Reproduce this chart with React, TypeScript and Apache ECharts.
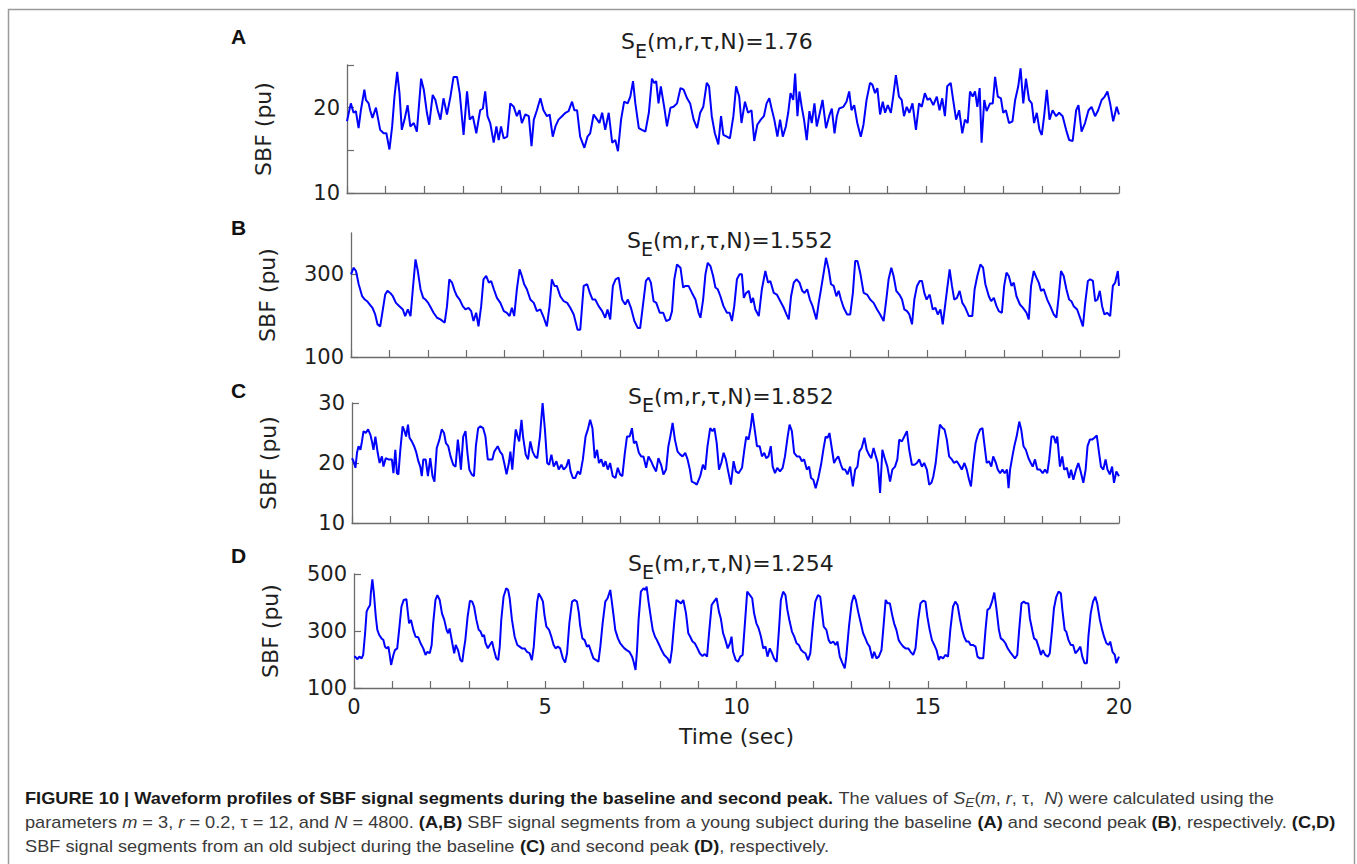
import React, { useEffect, useRef } from "react";
import * as echarts from "echarts";

// ---------------- DATA ----------------
const timesA = [
  0, 0.06, 0.1, 0.17, 0.23, 0.3, 0.36, 0.45, 0.49, 0.56, 0.6, 0.66, 0.75, 0.86, 0.95, 1.02, 1.1, 1.17, 1.23, 1.3,
  1.36, 1.42, 1.49, 1.57, 1.64, 1.73, 1.81, 1.92, 1.99, 2.07, 2.13, 2.22, 2.29, 2.35, 2.42, 2.5, 2.59, 2.68, 2.76, 2.85,
  2.92, 3.02, 3.11, 3.18, 3.26, 3.35, 3.45, 3.52, 3.58, 3.64, 3.71, 3.8, 3.87, 3.93, 3.99, 4.06, 4.15, 4.23, 4.32, 4.4,
  4.47, 4.53, 4.62, 4.71, 4.78, 4.84, 4.92, 5.01, 5.09, 5.18, 5.25, 5.33, 5.4, 5.48, 5.57, 5.66, 5.74, 5.83, 5.89, 5.96,
  6.04, 6.15, 6.23, 6.3, 6.39, 6.48, 6.54, 6.61, 6.69, 6.78, 6.87, 6.95, 7.02, 7.1, 7.18, 7.27, 7.34, 7.41, 7.47, 7.56,
  7.64, 7.73, 7.82, 7.9, 7.96, 8.01, 8.07, 8.13, 8.22, 8.29, 8.38, 8.46, 8.55, 8.64, 8.72, 8.81, 8.89, 8.98, 9.07,
  9.15, 9.23, 9.32, 9.38, 9.45, 9.53, 9.62, 9.69, 9.75, 9.84, 9.92, 10.01, 10.08, 10.16, 10.22, 10.31, 10.39, 10.48, 10.55, 10.63,
  10.72, 10.8, 10.87, 10.94, 11.0, 11.07, 11.15, 11.22, 11.29, 11.37, 11.43, 11.49, 11.56, 11.61, 11.67, 11.72, 11.78, 11.84, 11.91, 11.98,
  12.04, 12.11, 12.17, 12.25, 12.32, 12.41, 12.49, 12.56, 12.63, 12.69, 12.75, 12.86, 12.94, 13.01, 13.07, 13.14, 13.22, 13.31, 13.38, 13.46,
  13.55, 13.61, 13.68, 13.74, 13.81, 13.88, 13.94, 14.01, 14.09, 14.15, 14.22, 14.3, 14.37, 14.43, 14.5, 14.57, 14.65, 14.74, 14.82, 14.89,
  14.97, 15.04, 15.1, 15.19, 15.28, 15.35, 15.42, 15.49, 15.55, 15.64, 15.71, 15.78, 15.86, 15.94, 16.01, 16.08, 16.14, 16.21, 16.27, 16.33,
  16.39, 16.44, 16.51, 16.57, 16.66, 16.73, 16.79, 16.86, 16.94, 17.0, 17.07, 17.15, 17.24, 17.31, 17.39, 17.45, 17.52, 17.59, 17.67, 17.74,
  17.8, 17.87, 17.94, 18.0, 18.06, 18.13, 18.2, 18.28, 18.37, 18.45, 18.54, 18.63, 18.71, 18.8, 18.89, 18.95, 19.03, 19.12, 19.21, 19.29,
  19.38, 19.46, 19.55, 19.63, 19.7, 19.77, 19.85, 19.94, 20.0,
];
const valuesA = [
  18.4, 19.7, 20.5, 19.4, 19.6, 17.6, 19.7, 22.1, 20.9, 20.5, 19.7, 18.8, 20.0, 17.4, 17.0, 17.0, 15.1, 17.8, 21.3, 24.2,
  21.7, 17.4, 18.6, 20.3, 17.8, 18.2, 17.2, 23.4, 22.1, 19.4, 18.0, 21.5, 20.9, 19.7, 18.6, 21.1, 19.2, 21.3, 23.6, 23.6,
  21.7, 16.8, 21.9, 18.6, 19.0, 17.0, 19.7, 19.9, 21.9, 19.0, 18.2, 15.9, 17.8, 16.2, 17.8, 16.4, 16.6, 20.5, 20.1, 19.0,
  19.7, 18.2, 19.2, 19.0, 15.5, 18.6, 19.7, 21.1, 19.7, 19.0, 19.2, 16.6, 17.8, 18.6, 19.0, 19.4, 19.6, 20.7, 19.7, 19.7,
  16.6, 15.3, 16.6, 17.0, 19.2, 18.6, 18.2, 19.4, 17.4, 19.4, 15.9, 16.2, 14.9, 18.6, 20.7, 20.5, 21.3, 23.1, 20.5, 17.6,
  17.4, 17.2, 19.4, 23.4, 22.9, 23.1, 20.5, 22.5, 20.0, 17.8, 20.0, 20.1, 20.5, 22.3, 22.1, 21.1, 20.5, 18.6, 17.6,
  19.4, 20.1, 22.9, 22.5, 19.0, 17.0, 15.7, 19.0, 16.8, 16.6, 16.4, 19.0, 22.5, 21.3, 18.2, 20.7, 19.4, 19.7, 16.1, 18.0,
  18.6, 19.0, 20.5, 21.1, 19.9, 18.6, 16.6, 18.6, 16.6, 17.8, 19.4, 21.7, 20.9, 24.0, 19.0, 21.9, 20.1, 18.6, 16.2, 19.6,
  18.2, 20.5, 17.8, 19.4, 20.9, 17.6, 19.0, 19.9, 17.0, 19.0, 19.9, 20.1, 20.7, 21.9, 19.7, 20.3, 18.2, 16.6, 18.0, 20.9,
  22.9, 22.7, 21.7, 22.3, 19.2, 20.7, 19.4, 20.3, 19.4, 21.3, 23.8, 21.3, 20.9, 19.0, 20.1, 19.4, 20.5, 17.4, 20.5, 20.1,
  21.7, 20.9, 21.1, 20.3, 21.3, 19.7, 21.1, 19.0, 22.5, 22.9, 20.7, 18.6, 19.7, 17.0, 18.6, 18.2, 21.9, 21.3, 21.9, 20.1,
  22.3, 15.9, 20.9, 19.6, 20.5, 20.5, 23.6, 21.3, 21.1, 19.4, 19.7, 18.2, 18.4, 20.9, 22.5, 24.6, 20.5, 23.4, 20.9, 20.5,
  18.2, 19.4, 17.4, 16.8, 19.0, 22.1, 18.6, 19.7, 19.0, 19.4, 19.0, 17.4, 16.2, 16.1, 19.7, 20.3, 17.2, 18.2, 19.7, 20.1,
  19.0, 19.7, 20.9, 21.3, 21.9, 20.5, 18.4, 20.1, 19.2,
];

const timesB = [
  0, 0.07, 0.13, 0.2, 0.29, 0.36, 0.42, 0.49, 0.56, 0.63, 0.69, 0.76, 0.83, 0.89, 0.95, 1.02, 1.09, 1.17, 1.26, 1.35,
  1.41, 1.48, 1.55, 1.61, 1.68, 1.74, 1.81, 1.88, 1.94, 2.01, 2.08, 2.15, 2.24, 2.33, 2.44, 2.5, 2.56, 2.63, 2.7, 2.76,
  2.83, 2.91, 2.98, 3.06, 3.13, 3.19, 3.26, 3.32, 3.39, 3.45, 3.52, 3.59, 3.65, 3.72, 3.8, 3.89, 3.98, 4.06, 4.13, 4.19,
  4.25, 4.32, 4.39, 4.45, 4.51, 4.58, 4.67, 4.76, 4.84, 4.93, 5.02, 5.1, 5.17, 5.23, 5.3, 5.36, 5.45, 5.54, 5.63, 5.71,
  5.8, 5.9, 5.97, 6.06, 6.15, 6.22, 6.29, 6.36, 6.45, 6.54, 6.62, 6.68, 6.75, 6.82, 6.89, 6.97, 7.06, 7.14, 7.21, 7.29,
  7.38, 7.47, 7.53, 7.6, 7.68, 7.75, 7.81, 7.88, 7.95, 8.04, 8.13, 8.21, 8.3, 8.36, 8.42, 8.49, 8.58, 8.65, 8.71, 8.79,
  8.88, 8.97, 9.05,
  9.1, 9.17, 9.23, 9.29, 9.36, 9.43, 9.49, 9.55, 9.62, 9.7, 9.79, 9.86, 9.92, 9.98, 10.05, 10.12, 10.18, 10.23, 10.29, 10.36,
  10.42, 10.47, 10.53, 10.62, 10.7, 10.79, 10.86, 10.92, 11.01, 11.09, 11.18, 11.27, 11.34, 11.4, 11.46, 11.53, 11.6, 11.68, 11.75, 11.81,
  11.88, 11.95, 12.02, 12.12, 12.18, 12.24, 12.31, 12.37, 12.44, 12.5, 12.57, 12.64, 12.7, 12.76, 12.83, 12.92, 13.0, 13.07, 13.13, 13.19,
  13.26, 13.35, 13.44, 13.52, 13.61, 13.7, 13.78, 13.87, 13.94, 14.0, 14.07, 14.13, 14.2, 14.28, 14.35, 14.41, 14.48, 14.54, 14.61, 14.67,
  14.74, 14.81, 14.87, 14.93, 14.99, 15.07, 15.15, 15.22, 15.28, 15.35, 15.41, 15.48, 15.54, 15.59, 15.65, 15.71, 15.78, 15.85, 15.92, 16.0,
  16.09, 16.18, 16.24, 16.31, 16.39, 16.46, 16.52, 16.61, 16.67, 16.74, 16.81, 16.87, 16.95, 17.01, 17.07, 17.13, 17.2, 17.26, 17.33, 17.42,
  17.5, 17.59, 17.65, 17.71, 17.78, 17.85, 17.91, 17.97, 18.04, 18.13, 18.21, 18.3, 18.37, 18.43, 18.49, 18.56, 18.63, 18.7, 18.76, 18.82,
  18.91, 19.0, 19.06, 19.12, 19.19, 19.25, 19.32, 19.38, 19.44, 19.5, 19.56, 19.62, 19.69, 19.77, 19.84, 19.9, 19.97, 20.0,
];
const valuesB = [
  300, 316, 308, 276, 247, 239, 235, 227, 219, 203, 179, 174, 215, 251, 260, 255, 247, 231, 223, 215,
  199, 215, 199, 264, 336, 308, 264, 243, 239, 231, 219, 207, 195, 191, 183, 223, 288, 280, 260, 247,
  239, 223, 215, 219, 211, 187, 207, 174, 223, 288, 296, 280, 284, 264, 243, 231, 211, 207, 199, 219,
  199, 264, 312, 296, 276, 264, 239, 231, 211, 215, 195, 174, 223, 288, 272, 272, 247, 235, 231, 219,
  203, 166, 166, 272, 276, 255, 239, 239, 223, 211, 195, 215, 191, 272, 288, 292, 239, 227, 239, 219,
  187, 170, 170, 223, 284, 292, 280, 235, 231, 207, 207, 187, 191, 211, 288, 324, 316, 268, 272, 272,
  255, 239, 207,
  195, 239, 300, 328, 320, 296, 268, 264, 247, 223, 207, 207, 187, 223, 288, 300, 300, 243, 255, 260,
  231, 243, 215, 199, 264, 308, 280, 284, 255, 251, 235, 219, 203, 191, 247, 280, 288, 280, 260, 255,
  264, 239, 223, 191, 231, 264, 304, 340, 312, 276, 272, 247, 260, 239, 219, 203, 203, 255, 332, 332,
  304, 255, 251, 239, 231, 215, 203, 187, 239, 288, 316, 296, 260, 251, 239, 215, 211, 203, 179, 239,
  272, 284, 284, 255, 239, 251, 215, 219, 203, 215, 179, 231, 276, 312, 272, 239, 243, 260, 231, 219,
  199, 199, 264, 296, 324, 316, 276, 247, 235, 243, 223, 211, 207, 272, 304, 296, 272, 280, 247, 227,
  219, 207, 191, 272, 308, 292, 280, 260, 264, 239, 223, 203, 195, 247, 308, 296, 264, 239, 235, 223,
  215, 191, 174, 231, 284, 288, 284, 235, 239, 260, 223, 203, 207, 199, 272, 280, 308, 272,
];

const timesC = [
  0, 0.04, 0.09, 0.13, 0.17, 0.22, 0.26, 0.3, 0.36, 0.42, 0.48, 0.52, 0.56, 0.61, 0.67, 0.72, 0.78, 0.82, 0.88, 0.95,
  1.04, 1.08, 1.13, 1.17, 1.21, 1.26, 1.32, 1.37, 1.41, 1.46, 1.5, 1.56, 1.62, 1.67, 1.73, 1.78, 1.82, 1.86, 1.92, 1.98,
  2.04, 2.1, 2.15, 2.21, 2.28, 2.34, 2.4, 2.45, 2.51, 2.57, 2.64, 2.7, 2.76, 2.8, 2.84, 2.9, 2.96, 3.01, 3.06, 3.12,
  3.18, 3.23, 3.29, 3.35, 3.42, 3.48, 3.54, 3.6, 3.66, 3.71, 3.8, 3.86, 3.92, 3.97, 4.03, 4.09, 4.13, 4.18, 4.23, 4.27,
  4.32, 4.36, 4.42, 4.46, 4.53, 4.59, 4.65, 4.71, 4.77, 4.83, 4.9, 4.97, 5.03, 5.09, 5.14, 5.2, 5.26, 5.33, 5.39, 5.46,
  5.52, 5.59, 5.65, 5.7, 5.76, 5.82, 5.89, 5.95, 6.02, 6.09, 6.15, 6.21, 6.27, 6.33, 6.39, 6.44, 6.5, 6.56, 6.61, 6.67,
  6.73, 6.8, 6.87, 6.93, 6.99, 7.05, 7.11, 7.17, 7.24, 7.3, 7.35, 7.41, 7.48, 7.54, 7.6, 7.67, 7.73, 7.8, 7.86, 7.93,
  7.99, 8.06, 8.12, 8.19, 8.25, 8.3, 8.36, 8.42, 8.49, 8.56, 8.62, 8.69, 8.75, 8.81, 8.86, 8.93, 8.99,
  9.08, 9.15, 9.21, 9.27, 9.34, 9.4, 9.45, 9.51, 9.57, 9.63, 9.69, 9.75, 9.8, 9.88, 9.95, 10.01, 10.08, 10.17, 10.23, 10.28,
  10.34, 10.4, 10.44, 10.5, 10.56, 10.63, 10.69, 10.75, 10.8, 10.86, 10.92, 10.97, 11.03, 11.09, 11.16, 11.23, 11.29, 11.36, 11.41, 11.47,
  11.53, 11.6, 11.67, 11.73, 11.79, 11.86, 11.92, 11.97, 12.03, 12.09, 12.16, 12.23, 12.29, 12.35, 12.4, 12.45, 12.51, 12.57, 12.62, 12.68,
  12.75, 12.8, 12.86, 12.92, 12.99, 13.06, 13.12, 13.18, 13.23, 13.29, 13.36, 13.42, 13.48, 13.54, 13.6, 13.66, 13.71, 13.77, 13.83, 13.9,
  13.96, 14.03, 14.09, 14.16, 14.22, 14.27, 14.34, 14.4, 14.47, 14.53, 14.6, 14.67, 14.73, 14.79, 14.86, 14.92, 14.99, 15.05, 15.11, 15.16,
  15.22, 15.28, 15.33, 15.4, 15.45, 15.51, 15.57, 15.64, 15.7, 15.77, 15.83, 15.9, 15.97, 16.03, 16.09, 16.14, 16.2, 16.26, 16.32, 16.38,
  16.44, 16.49, 16.55, 16.61, 16.67, 16.72, 16.79, 16.84, 16.9, 16.96, 17.02, 17.08, 17.12, 17.16, 17.22, 17.28, 17.33, 17.4, 17.45, 17.51,
  17.57, 17.64, 17.7, 17.75, 17.81, 17.87, 17.94, 18.01, 18.07, 18.13, 18.18, 18.24, 18.3, 18.35, 18.39, 18.46, 18.52, 18.57, 18.64, 18.7,
  18.75, 18.81, 18.88, 18.94, 19.0, 19.07, 19.13, 19.18, 19.24, 19.3, 19.36, 19.42, 19.48, 19.53, 19.59, 19.65, 19.7, 19.76, 19.82, 19.87,
  19.93, 20.0,
];
const valuesC = [
  20.8, 20.3, 19.2, 21.7, 22.8, 22.2, 23.6, 25.3, 25.0, 25.6, 24.7, 23.6, 22.2, 24.4, 21.7, 20.0, 21.1, 19.4, 20.8, 20.6,
  20.6, 18.3, 22.2, 18.3, 18.1, 22.2, 26.1, 25.3, 24.4, 26.4, 24.2, 23.6, 22.8, 21.9, 20.3, 19.4, 17.8, 20.6, 20.6, 17.8,
  20.8, 17.8, 16.9, 22.5, 23.9, 25.6, 25.0, 23.3, 22.8, 21.1, 19.7, 19.4, 23.9, 21.7, 18.9, 24.4, 25.3, 21.7, 18.9, 18.1,
  17.8, 22.8, 25.8, 26.1, 25.8, 24.4, 20.6, 20.6, 20.6, 21.9, 22.8, 21.9, 21.4, 20.0, 18.1, 20.0, 21.9, 18.9, 22.8, 25.6,
  24.4, 23.6, 27.2, 24.4, 21.4, 20.6, 23.6, 21.9, 21.1, 20.8, 24.4, 30.0, 25.6, 20.0, 19.7, 21.4, 19.4, 20.3, 18.9, 19.7,
  18.9, 19.4, 20.6, 18.6, 17.5, 17.5, 18.6, 18.1, 20.6, 24.4, 25.6, 27.2, 25.8, 20.8, 22.2, 20.0, 20.6, 19.4, 20.3, 18.9,
  20.0, 17.8, 17.5, 19.2, 18.1, 17.8, 21.4, 24.4, 24.4, 25.8, 23.3, 23.6, 21.7, 21.1, 21.1, 19.2, 21.1, 20.3, 19.4, 18.6,
  20.8, 19.7, 18.1, 18.9, 22.8, 24.4, 26.7, 23.9, 21.9, 21.4, 21.1, 21.7, 20.6, 18.9, 16.9, 16.7, 16.4,
  17.8, 19.7, 18.9, 22.8, 25.8, 25.3, 25.8, 23.3, 18.9, 20.0, 21.7, 20.6, 18.9, 16.4, 20.3, 18.6, 18.3, 19.2, 22.2, 24.4,
  23.9, 26.1, 28.3, 25.6, 22.8, 22.8, 21.1, 21.7, 20.8, 21.1, 22.8, 19.4, 18.3, 19.2, 18.6, 19.2, 21.1, 24.4, 26.4, 25.3,
  21.7, 21.1, 21.1, 20.3, 20.6, 18.9, 19.4, 17.5, 17.2, 15.8, 17.5, 19.7, 22.2, 24.4, 24.2, 25.0, 22.5, 20.0, 20.6, 21.1,
  19.7, 18.9, 18.9, 18.1, 19.4, 16.1, 18.9, 19.4, 21.9, 22.5, 24.2, 22.2, 21.4, 20.8, 22.5, 21.1, 20.0, 15.0, 22.2, 20.6,
  19.4, 16.9, 18.9, 19.4, 20.6, 23.9, 23.6, 24.4, 25.3, 22.2, 19.7, 19.7, 20.0, 20.6, 19.4, 20.0, 18.9, 16.4, 16.7, 17.8,
  20.0, 23.6, 26.4, 25.8, 25.6, 23.9, 21.1, 20.6, 20.0, 20.3, 19.7, 18.9, 20.0, 18.9, 17.2, 16.1, 20.0, 23.3, 24.7, 25.6,
  25.8, 23.1, 20.0, 20.3, 19.4, 21.1, 20.0, 18.9, 18.3, 18.9, 18.3, 18.9, 15.8, 18.9, 21.1, 23.1, 24.4, 26.9, 25.6, 22.8,
  22.2, 20.8, 20.0, 19.4, 20.6, 18.9, 18.9, 18.3, 18.9, 18.3, 20.6, 24.4, 24.4, 23.3, 24.4, 19.4, 21.1, 18.9, 19.2, 17.5,
  18.9, 17.2, 18.9, 20.0, 18.6, 16.7, 18.9, 22.8, 23.9, 23.9, 24.2, 24.6, 21.7, 19.4, 18.9, 20.6, 18.9, 18.1, 19.4, 16.7,
  18.6, 17.8,
];

const timesD = [
  0, 0.03, 0.09, 0.14, 0.2, 0.24, 0.29, 0.33, 0.37, 0.42, 0.44, 0.48, 0.52, 0.57, 0.61, 0.66, 0.72, 0.77, 0.81, 0.85,
  0.9, 0.94, 0.97, 1.03, 1.07, 1.13, 1.18, 1.24, 1.3, 1.37, 1.42, 1.44, 1.49, 1.55, 1.61, 1.68, 1.74, 1.81, 1.87, 1.92,
  1.98, 2.03, 2.07, 2.13, 2.18, 2.24, 2.3, 2.36, 2.42, 2.46, 2.5, 2.57, 2.62, 2.66, 2.72, 2.78, 2.83, 2.87, 2.91, 2.97,
  3.03, 3.09, 3.14, 3.2, 3.26, 3.31, 3.36, 3.4, 3.44, 3.5, 3.55, 3.61, 3.66, 3.72, 3.77, 3.81, 3.85, 3.91, 3.98, 4.03,
  4.07, 4.13, 4.2, 4.27, 4.33, 4.39, 4.46, 4.52, 4.59, 4.65, 4.7, 4.75, 4.79, 4.83, 4.9, 4.94, 4.98, 5.03, 5.1, 5.16,
  5.22, 5.27, 5.33, 5.39, 5.46, 5.52, 5.57, 5.63, 5.7, 5.77, 5.83, 5.88, 5.91, 5.97, 6.03, 6.09, 6.14, 6.2, 6.26, 6.33,
  6.39, 6.44, 6.5, 6.57, 6.63, 6.7, 6.74, 6.79, 6.83, 6.9, 6.96, 7.03, 7.07, 7.13, 7.2, 7.27, 7.31, 7.36, 7.4, 7.44,
  7.5, 7.57, 7.62, 7.65, 7.7, 7.77, 7.81, 7.87, 7.92, 7.98, 8.04, 8.11, 8.2, 8.26, 8.31, 8.37, 8.43, 8.49, 8.55, 8.61,
  8.68, 8.74, 8.79, 8.85, 8.91, 8.98,
  9.04, 9.11, 9.17, 9.23, 9.29, 9.35, 9.41, 9.48, 9.54, 9.59, 9.65, 9.71, 9.77, 9.83, 9.87, 9.91, 9.98, 10.04, 10.1, 10.16,
  10.22, 10.28, 10.35, 10.41, 10.46, 10.52, 10.58, 10.64, 10.7, 10.76, 10.81, 10.87, 10.93, 10.98, 11.05, 11.11, 11.16, 11.22, 11.28, 11.33,
  11.39, 11.45, 11.51, 11.57, 11.63, 11.69, 11.74, 11.8, 11.87, 11.93, 12.0, 12.06, 12.13, 12.19, 12.24, 12.28, 12.35, 12.41, 12.46, 12.53,
  12.59, 12.64, 12.7, 12.77, 12.83, 12.87, 12.94, 13.01, 13.07, 13.12, 13.18, 13.24, 13.31, 13.37, 13.42, 13.48, 13.55, 13.6, 13.66, 13.72,
  13.79, 13.85, 13.9, 13.95, 14.01, 14.07, 14.12, 14.18, 14.24, 14.29, 14.36, 14.42, 14.49, 14.55, 14.62, 14.68, 14.75, 14.81, 14.88, 14.94,
  14.99, 15.05, 15.11, 15.17, 15.23, 15.29, 15.33, 15.4, 15.46, 15.53, 15.59, 15.66, 15.72, 15.78, 15.84, 15.9, 15.95, 16.01, 16.07, 16.12,
  16.18, 16.25, 16.3, 16.36, 16.45, 16.51, 16.56, 16.62, 16.68, 16.74, 16.79, 16.86, 16.91, 16.97, 17.03, 17.09, 17.15, 17.21, 17.28, 17.34,
  17.39, 17.45, 17.51, 17.57, 17.63, 17.67, 17.74, 17.78, 17.84, 17.91, 17.96, 18.01, 18.07, 18.14, 18.19, 18.25, 18.3, 18.36, 18.42, 18.48,
  18.52, 18.58, 18.62, 18.68, 18.74, 18.8, 18.86, 18.93, 18.99, 19.04, 19.1, 19.16, 19.2, 19.26, 19.32, 19.38, 19.43, 19.5, 19.56, 19.61,
  19.67, 19.73, 19.77, 19.83, 19.89, 19.93, 19.98, 20.0,
];
const valuesD = [
  210, 210, 201, 210, 204, 216, 292, 368, 380, 391, 432, 481, 432, 350, 304, 286, 274, 268, 245, 239,
  245, 210, 181, 216, 233, 239, 304, 385, 409, 412, 350, 327, 339, 304, 280, 278, 257, 239, 216, 227,
  222, 251, 327, 409, 426, 409, 362, 339, 304, 292, 309, 257, 222, 251, 233, 198, 192, 233, 268, 350,
  406, 403, 385, 339, 304, 298, 280, 286, 257, 239, 251, 263, 233, 204, 198, 245, 339, 420, 450, 444,
  415, 339, 280, 251, 245, 239, 239, 227, 222, 198, 245, 339, 403, 432, 415, 403, 356, 315, 304, 280,
  251, 239, 245, 239, 204, 189, 222, 327, 403, 409, 403, 362, 321, 274, 268, 245, 251, 227, 204, 198,
  192, 245, 327, 403, 415, 444, 403, 350, 304, 274, 257, 245, 239, 233, 227, 210, 192, 163, 233, 339,
  438, 450, 444, 456, 403, 339, 304, 280, 268, 251, 233, 216, 204, 187, 233, 327, 409, 403, 397, 409,
  362, 292, 280, 263, 257, 239,
  222, 212, 219, 210, 304, 391, 403, 415, 368, 344, 292, 268, 239, 257, 280, 227, 198, 192, 210, 216,
  327, 438, 426, 415, 362, 327, 309, 280, 239, 245, 210, 239, 222, 204, 192, 304, 409, 438, 426, 374,
  333, 298, 280, 257, 251, 233, 227, 222, 198, 222, 327, 403, 426, 420, 362, 315, 304, 268, 257, 263,
  251, 263, 210, 187, 169, 210, 315, 397, 426, 409, 368, 333, 292, 274, 257, 245, 204, 227, 204, 210,
  233, 327, 409, 397, 397, 356, 327, 304, 268, 257, 245, 239, 239, 227, 216, 239, 339, 397, 406, 403,
  350, 304, 268, 251, 233, 198, 210, 204, 216, 210, 304, 385, 403, 391, 344, 304, 280, 263, 263, 251,
  251, 245, 210, 204, 204, 304, 374, 380, 403, 435, 385, 304, 274, 268, 257, 239, 227, 216, 204, 216,
  304, 397, 403, 397, 397, 344, 298, 274, 268, 239, 216, 233, 216, 210, 222, 304, 380, 420, 438, 432,
  374, 304, 298, 268, 251, 251, 222, 233, 245, 210, 187, 187, 280, 362, 403, 420, 397, 339, 304, 280,
  257, 251, 263, 227, 216, 187, 204, 210,
];

const panelLabels = ["A", "B", "C", "D"];
const entropyValues = ["1.76", "1.552", "1.852", "1.254"];
const yMins = [10, 100, 10, 100];
const yMaxs = [25, 400, 30, 500];
const yIntervals = [5, 200, 10, 200];
const yTickValues = [[10, 15, 20, 25], [100, 300], [10, 20, 30], [100, 300, 500]];
const yTickLabels = [[10, 20], [100, 300], [10, 20, 30], [100, 300, 500]];
const xTickValues = [0, 1, 2, 3, 4, 5, 6, 7, 8, 9, 10, 11, 12, 13, 14, 15, 16, 17, 18, 19, 20];
const xTickLabels = [0, 5, 10, 15, 20];
const yAxisName = "SBF (pu)";
const xAxisName = "Time (sec)";

const captionLine1: [string, string][] = [
  ["b", "FIGURE 10 | Waveform profiles of SBF signal segments during the baseline and second peak."],
  ["n", " The values of "], ["i", "S"], ["s", "E"], ["n", "("], ["i", "m"], ["n", ", "], ["i", "r"],
  ["n", ", \u03c4,  "], ["i", "N"], ["n", ") were calculated using the"],
];
const captionLine2: [string, string][] = [
  ["n", "parameters "], ["i", "m"], ["n", " = 3, "], ["i", "r"], ["n", " = 0.2, \u03c4 = 12, and "], ["i", "N"],
  ["n", " = 4800. "], ["b", "(A,B)"], ["n", " SBF signal segments from a young subject during the baseline "],
  ["b", "(A)"], ["n", " and second peak "], ["b", "(B)"], ["n", ", respectively. "], ["b", "(C,D)"],
];
const captionLine3: [string, string][] = [
  ["n", "SBF signal segments from an old subject during the baseline "], ["b", "(C)"],
  ["n", " and second peak "], ["b", "(D)"], ["n", ", respectively."],
];

// ---------------- LAYOUT / STYLE ----------------
const grids = [
  { left: 347, top: 65, width: 772, height: 128 },
  { left: 351, top: 233, width: 768, height: 124 },
  { left: 352, top: 403, width: 767, height: 120 },
  { left: 354, top: 574, width: 765, height: 114 },
];
const titleX = [621, 627, 628, 628];
const titleY = [41.5, 240, 396, 563];
const labelY = [36, 227, 390, 555];
const AXIS_FONT = "DejaVu Sans";
const CAP_FONT = "'Liberation Sans Narrow', 'Liberation Sans', Arial, sans-serif";
const AXIS_COLOR = "#6b6b6b";
const TEXT_COLOR = "#1e1e1e";
const CAP_SIZE = 16;

const capStyles: Record<string, any> = {
  n: { fontSize: CAP_SIZE, fontFamily: CAP_FONT, fill: "#3a3a3a" },
  b: { fontSize: CAP_SIZE, fontFamily: CAP_FONT, fill: "#1a1a1a", fontWeight: "bold" },
  i: { fontSize: CAP_SIZE, fontFamily: CAP_FONT, fill: "#3a3a3a", fontStyle: "italic" },
  s: { fontSize: 12, fontFamily: CAP_FONT, fill: "#3a3a3a", fontStyle: "italic", padding: [9, 0, 0, 0] },
};

function measureLine(ctx: CanvasRenderingContext2D, segs: [string, string][]) {
  let w = 0;
  for (const [k, t] of segs) {
    const st = capStyles[k];
    ctx.font = `${st.fontStyle === "italic" ? "italic " : ""}${st.fontWeight === "bold" ? "bold " : ""}${st.fontSize}px ${CAP_FONT}`;
    w += ctx.measureText(t).width;
  }
  return w;
}
const toRich = (segs: [string, string][]) => segs.map(([k, t]) => `{${k}|${t}}`).join("");

export default function App() {
  const ref = useRef<HTMLDivElement>(null);
  useEffect(() => {
    document.body.style.margin = "0";
    if (!ref.current) return;
    const chart = echarts.init(ref.current, undefined, { renderer: "svg" });

    const times = [timesA, timesB, timesC, timesD];
    const values = [valuesA, valuesB, valuesC, valuesD];

    const canvas = document.createElement("canvas");
    const ctx = canvas.getContext("2d")!;
    const w2 = measureLine(ctx, captionLine2);
    const capScale = w2 > 0 ? 1310 / w2 : 1;

    const graphics: any[] = [
      {
        type: "rect",
        shape: { x: 8.5, y: 9.5, width: 1346, height: 900 },
        style: { fill: "none", stroke: "#9a9a9a", lineWidth: 1.5 },
        silent: true,
      },
    ];
    for (let i = 0; i < 4; i++) {
      graphics.push({
        type: "text", x: 231, y: labelY[i],
        style: { text: panelLabels[i], fontSize: 21, fontWeight: "bold", fontFamily: "Liberation Sans", fill: "#111", align: "left", verticalAlign: "middle" },
      });
      graphics.push({
        type: "text", x: titleX[i], y: titleY[i],
        style: { text: "S", fontSize: 22, fontFamily: AXIS_FONT, fill: TEXT_COLOR, align: "left", verticalAlign: "middle" },
      });
      graphics.push({
        type: "text", x: titleX[i] + 14, y: titleY[i] + 9,
        style: { text: "E", fontSize: 19, fontFamily: AXIS_FONT, fill: TEXT_COLOR, align: "left", verticalAlign: "middle" },
      });
      graphics.push({
        type: "text", x: titleX[i] + 26, y: titleY[i],
        style: { text: "(m,r,\u03c4,N)=" + entropyValues[i], fontSize: 22, fontFamily: AXIS_FONT, fill: TEXT_COLOR, align: "left", verticalAlign: "middle" },
      });
    }
    const capLines = [captionLine1, captionLine2, captionLine3];
    const capY = [798, 822, 846];
    capLines.forEach((segs, k) => {
      graphics.push({
        type: "text", x: 25, y: capY[k], scaleX: capScale, scaleY: 1,
        style: { text: toRich(segs), rich: capStyles, fontSize: CAP_SIZE, fontFamily: CAP_FONT, fill: "#3a3a3a", align: "left", verticalAlign: "middle" },
      });
    });

    const option: any = {
      animation: false,
      backgroundColor: "#ffffff",
      grid: grids.map((g) => ({ ...g, containLabel: false })),
      xAxis: grids.map((_, i) => ({
        type: "value",
        gridIndex: i,
        min: 0,
        max: 20,
        interval: 1,
        axisLine: { show: true, onZero: false, lineStyle: { color: AXIS_COLOR, width: 1.3 } },
        axisTick: { show: true, inside: true, length: 7, customValues: xTickValues, lineStyle: { color: AXIS_COLOR, width: 1.2 } },
        axisLabel: {
          show: i === 3,
          customValues: xTickLabels,
          margin: 8,
          fontSize: 21,
          fontFamily: AXIS_FONT,
          color: TEXT_COLOR,
        },
        splitLine: { show: false },
        name: i === 3 ? xAxisName : "",
        nameLocation: "middle",
        nameGap: 37,
        nameTextStyle: { fontSize: 22, fontFamily: AXIS_FONT, color: TEXT_COLOR },
      })),
      yAxis: grids.map((_, i) => ({
        type: "value",
        gridIndex: i,
        min: yMins[i],
        max: yMaxs[i],
        interval: yIntervals[i],
        axisLine: { show: true, onZero: false, lineStyle: { color: AXIS_COLOR, width: 1.3 } },
        axisTick: { show: true, inside: true, length: 7, customValues: yTickValues[i], lineStyle: { color: AXIS_COLOR, width: 1.2 } },
        axisLabel: {
          show: true,
          customValues: yTickLabels[i],
          margin: 7,
          fontSize: 21,
          fontFamily: AXIS_FONT,
          color: TEXT_COLOR,
        },
        splitLine: { show: false },
        name: yAxisName,
        nameLocation: "middle",
        nameGap: 73,
        nameTextStyle: { fontSize: 22, fontFamily: AXIS_FONT, color: TEXT_COLOR },
      })),
      series: grids.map((_, i) => ({
        type: "line",
        xAxisIndex: i,
        yAxisIndex: i,
        data: times[i].map((t, j) => [t, values[i][j]]),
        showSymbol: false,
        symbol: "none",
        lineStyle: { color: "#0000ff", width: 2 },
        silent: true,
      })),
      graphic: graphics,
    };
    chart.setOption(option);
    return () => chart.dispose();
  }, []);
  return <div ref={ref} style={{ width: 1357, height: 864 }} />;
}
